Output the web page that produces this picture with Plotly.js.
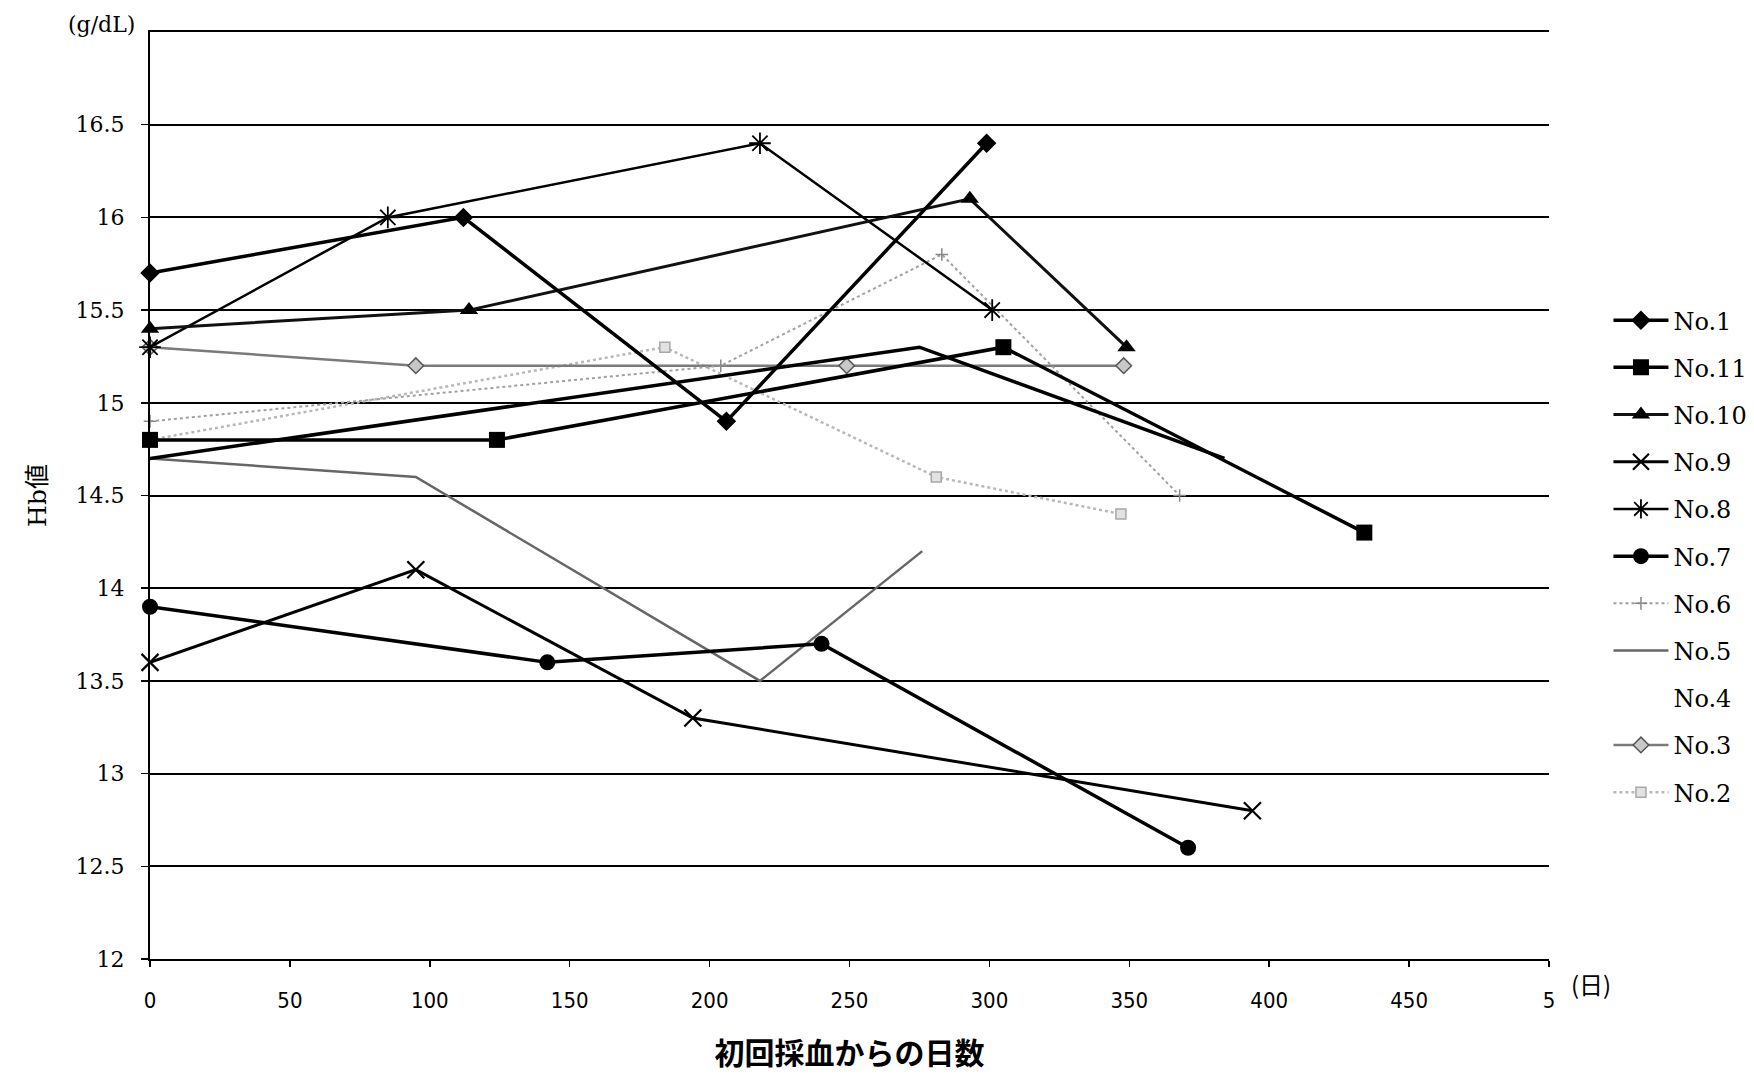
<!DOCTYPE html>
<html>
<head>
<meta charset="utf-8">
<script src="https://cdn.plot.ly/plotly-3.0.1.min.js"></script>
<style>
html,body{margin:0;padding:0;background:#fff;}
#chart{width:1754px;height:1081px;}
</style>
</head>
<body>
<div id="chart"></div>
<script>
// ---- data (days since first blood sampling, Hb g/dL) ----
const no1Days  = [0, 112, 206, 299];
const no1Hb    = [15.7, 16.0, 14.9, 16.4];
const no11Days = [0, 124, 305, 434];
const no11Hb   = [14.8, 14.8, 15.3, 14.3];
const no10Days = [0, 114, 293, 349];
const no10Hb   = [15.4, 15.5, 16.1, 15.3];
const no9Days  = [0, 95, 194, 394];
const no9Hb    = [13.6, 14.1, 13.3, 12.8];
const no8Days  = [0, 85, 218, 301];
const no8Hb    = [15.3, 16.0, 16.4, 15.5];
const no7Days  = [0, 142, 240, 371];
const no7Hb    = [13.9, 13.6, 13.7, 12.6];
const no6Days  = [0, 204, 283, 368];
const no6Hb    = [14.9, 15.2, 15.8, 14.5];
const no5Days  = [0, 95, 218, 276];
const no5Hb    = [14.7, 14.6, 13.5, 14.2];
const no4Days  = [0, 275, 384];
const no4Hb    = [14.7, 15.3, 14.7];
const no3Days  = [0, 95, 249, 348];
const no3Hb    = [15.3, 15.2, 15.2, 15.2];
const no2Days  = [0, 184, 281, 347];
const no2Hb    = [14.8, 15.3, 14.6, 14.4];

const yTickVals = [12, 12.5, 13, 13.5, 14, 14.5, 15, 15.5, 16, 16.5];
const xTickVals = [0, 50, 100, 150, 200, 250, 300, 350, 400, 450, 500];
const xTickText = ['0', '50', '100', '150', '200', '250', '300', '350', '400', '450', '5'];

const serif = 'DejaVu Serif, Liberation Serif, serif';
const cjk = 'Noto Sans CJK JP, sans-serif';
const narrow = 'Liberation Sans Narrow, DejaVu Sans Condensed, Liberation Sans, sans-serif';

function tr(name, x, y, rank, line, marker, extra) {
  const t = {
    type: 'scatter', name: name, x: x, y: y,
    mode: marker ? 'lines+markers' : 'lines',
    line: line, legendgroup: 'g' + rank, legendrank: rank,
    cliponaxis: false, hoverinfo: 'x+y+name'
  };
  if (marker) t.marker = marker;
  return Object.assign(t, extra || {});
}

const traces = [
  tr('No.2', no2Days, no2Hb, 11, {color: '#b8b8b8', width: 2.5, dash: 'dot'},
     {symbol: 'square', size: 10, color: '#e2e2e2', line: {color: '#a8a8a8', width: 1.5}}),
  tr('No.3', no3Days, no3Hb, 10, {color: '#7a7a7a', width: 2.5},
     {symbol: 'diamond', size: 12, color: '#c8c8c8', line: {color: '#555', width: 1.5}}),
  tr('No.5', no5Days, no5Hb, 8, {color: '#666', width: 2.5}, null),
  tr('No.6', no6Days, no6Hb, 7, {color: '#a0a0a0', width: 2, dash: 'dot'},
     {symbol: 'cross-thin-open', size: 9, color: '#888', line: {color: '#888', width: 1.5}}),
  tr('No.4', [null], [null], 9, {color: 'rgba(0,0,0,0)', width: 2}, null),
  tr('No.4', no4Days, no4Hb, 9, {color: '#000', width: 3.5}, null, {showlegend: false}),
  tr('No.7', no7Days, no7Hb, 6, {color: '#000', width: 3.5},
     {symbol: 'circle', size: 16, color: '#000'}),
  tr('No.8', no8Days, no8Hb, 5, {color: '#000', width: 2.5},
     {symbol: 'asterisk-open', size: 18, color: '#000', line: {color: '#000', width: 1.8}}),
  tr('No.9', no9Days, no9Hb, 4, {color: '#000', width: 3},
     {symbol: 'x-thin-open', size: 17, color: '#000', line: {color: '#000', width: 2.2}}),
  tr('No.10', no10Days, no10Hb, 3, {color: '#111', width: 3},
     {symbol: 'triangle-up', size: 16, color: '#000'}),
  tr('No.11', no11Days, no11Hb, 2, {color: '#000', width: 3.5},
     {symbol: 'square', size: 16, color: '#000'}),
  tr('No.1', no1Days, no1Hb, 1, {color: '#000', width: 3.5},
     {symbol: 'diamond', size: 15, color: '#000'})
];

const layout = {
  width: 1754, height: 1081,
  paper_bgcolor: '#fff', plot_bgcolor: '#fff',
  margin: {l: 150, r: 205, t: 32, b: 122, autoexpand: false},
  showlegend: true,
  legend: {
    x: 1.0425, xanchor: 'left', y: 0.713, yanchor: 'top',
    font: {family: serif, size: 24, color: '#000'},
    bgcolor: 'rgba(0,0,0,0)', traceorder: 'grouped', tracegroupgap: 13,
    itemwidth: 55
  },
  xaxis: {
    range: [0, 500], tickvals: xTickVals, ticktext: xTickText,
    showgrid: false, zeroline: false,
    showline: true, linecolor: '#000', linewidth: 2, mirror: true,
    ticks: 'outside', ticklen: 6, tickwidth: 1.5, tickcolor: '#000',
    ticklabelstandoff: 15,
    tickfont: {family: narrow, size: 22, color: '#000'},
    title: {text: '初回採血からの日数', font: {family: cjk, size: 30, color: '#000', weight: 700}, standoff: 31}
  },
  yaxis: {
    range: [12, 17], tickvals: yTickVals,
    showgrid: true, gridcolor: '#000', gridwidth: 2,
    zeroline: false, showline: true, linecolor: '#000', linewidth: 2,
    ticks: 'outside', ticklen: 7, tickwidth: 1.5, tickcolor: '#000',
    ticklabelstandoff: 12,
    tickfont: {family: serif, size: 22, color: '#000'},
    title: {text: 'Hb値', font: {family: serif + ', Noto Sans CJK JP', size: 25, color: '#000'}, standoff: 22}
  },
  annotations: [
    {text: '(g/dL)', xref: 'paper', yref: 'paper', x: -0.0345, y: 1.008,
     xanchor: 'center', yanchor: 'middle', showarrow: false,
     font: {family: serif, size: 22, color: '#000'}},
    {text: '(日)', xref: 'paper', yref: 'paper', x: 1.030, y: -0.026,
     xanchor: 'center', yanchor: 'middle', showarrow: false,
     font: {family: cjk, size: 24, color: '#000'}}
  ]
};

Plotly.newPlot('chart', traces, layout, {displayModeBar: false, staticPlot: true});
</script>
</body>
</html>
